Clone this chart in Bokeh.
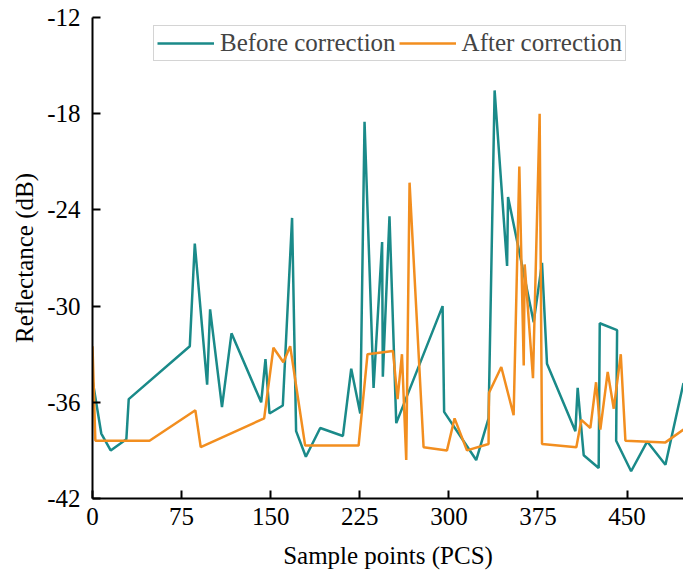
from bokeh.plotting import figure
from bokeh.models import Range1d, FixedTicker, Legend, LegendItem
from bokeh.embed import file_html
from bokeh.resources import INLINE

# Before correction (teal)
x_before = [0, 7.4, 15.3, 28.5, 30.5, 81.9, 86.1, 96.5, 99, 109, 117, 142, 145.6, 149,
            160.2, 168, 171.4, 179.6, 191.7, 210.8, 217.8, 225.4, 229, 236.6, 243.8, 244.4,
            250, 255.7, 294.7, 296, 323, 333.4, 338.5, 349, 349.8, 371.4, 378.4, 382.6,
            406.5, 408.4, 413.5, 426.1, 427, 441.6, 440.8, 453.4, 466.9, 482.3, 497.5]
y_before = [-34.6, -37.95, -39.0, -38.3, -35.8, -32.5, -26.1, -34.9, -30.2, -36.3, -31.7, -36.0, -33.3, -36.7,
            -36.2, -24.5, -37.8, -39.4, -37.6, -38.1, -33.9, -36.7, -18.5, -35.1, -26.0, -34.4,
            -24.4, -37.3, -30.0, -36.6, -39.6, -37.0, -16.55, -27.5, -23.2, -31.0, -27.3, -33.6,
            -37.8, -35.1, -39.3, -40.1, -31.07, -31.5, -38.4, -40.3, -38.45, -39.9, -34.8]

# After correction (orange)
x_after = [0, 2.4, 48, 86.6, 91.1, 144.5, 152.3, 160.7, 166.4, 179, 224, 231.5, 252.9, 256.8,
           260.5, 264.1, 266.9, 278.7, 298.4, 304.8, 315.2, 333.4, 333.8, 344.1, 354.5, 359.3,
           363, 363.8, 370.8, 376.4, 378.4, 407.3, 411.5, 419.1, 423.9, 427.5, 433.7, 438.8,
           444.7, 448.6, 482.3, 497.5]
y_after = [-32.5, -38.4, -38.4, -36.5, -38.8, -37.0, -32.6, -33.5, -32.5, -38.7, -38.7, -33.0, -32.8, -35.8,
           -33.0, -39.6, -22.3, -38.8, -39.0, -37.0, -39.0, -38.6, -35.4, -33.8, -36.8, -21.3,
           -33.7, -27.4, -34.5, -18.0, -38.6, -38.8, -37.1, -37.6, -34.75, -37.7, -34.1, -36.4,
           -33.0, -38.4, -38.5, -37.7]

x_ticks = [0, 75, 150, 225, 300, 375, 450]
y_ticks = [-42, -36, -30, -24, -18, -12]
y_tick_labels = ["-42", "-36", "-30", "-24", "-18", "-12"]

FONT = "Liberation Serif"
TEAL = "#1a8a89"
ORANGE = "#f28e1f"

p = figure(width=683, height=576, output_backend="svg", toolbar_location=None,
           x_range=Range1d(0, 497.5), y_range=Range1d(-42, -12),
           min_border_left=92, min_border_right=0, min_border_top=17, min_border_bottom=78)

r1 = p.line(x_before, y_before, line_color=TEAL, line_width=2.5)
r2 = p.line(x_after, y_after, line_color=ORANGE, line_width=2.5)

p.outline_line_color = None
p.grid.visible = False

for ax in (p.xaxis[0], p.yaxis[0]):
    ax.axis_line_width = 2
    ax.axis_line_color = "black"
    ax.major_tick_in = 8
    ax.major_tick_out = 0
    ax.major_tick_line_width = 2
    ax.minor_tick_line_color = None
    ax.major_label_text_font = FONT
    ax.major_label_text_font_size = "25px"
    ax.major_label_text_color = "black"
    ax.axis_label_text_font = FONT
    ax.axis_label_text_font_size = "25px"
    ax.axis_label_text_font_style = "normal"
    ax.axis_label_text_color = "black"

p.xaxis.ticker = FixedTicker(ticks=x_ticks)
p.yaxis.ticker = FixedTicker(ticks=y_ticks)
p.yaxis.major_label_overrides = {t: s for t, s in zip(y_ticks, y_tick_labels)}
p.xaxis.axis_label = "Sample points (PCS)"
p.yaxis.axis_label = "Reflectance (dB)"
p.xaxis.major_label_standoff = 9
p.yaxis.major_label_standoff = 12
p.xaxis.axis_label_standoff = 14
p.yaxis.axis_label_standoff = 6

legend = Legend(items=[LegendItem(label="Before correction", renderers=[r1]),
                       LegendItem(label="After correction", renderers=[r2])],
                orientation="horizontal", location=(61, 437),
                label_text_font=FONT, label_text_font_size="25px",
                glyph_width=57, glyph_height=20, label_standoff=6, spacing=3,
                padding=3, margin=0, border_line_color="#aaaaaa", border_line_width=1,
                background_fill_alpha=1)
p.add_layout(legend)

open("out.html", "w").write(file_html(p, INLINE))
